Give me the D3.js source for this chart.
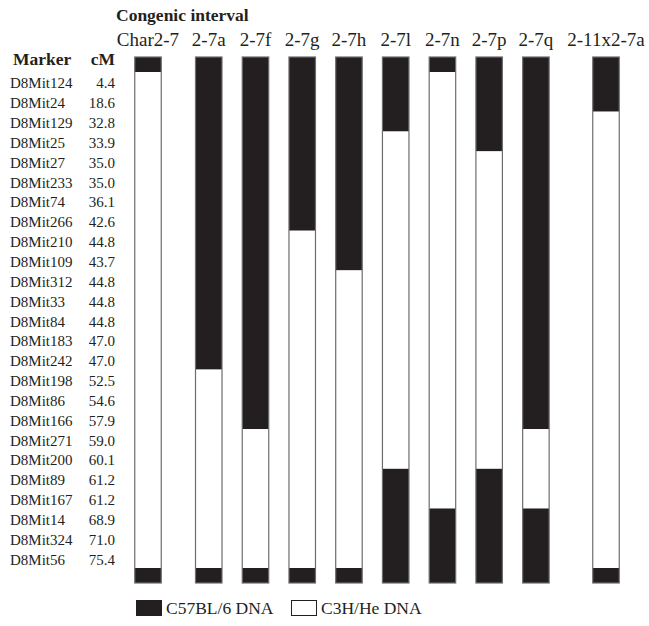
<!DOCTYPE html>
<html>
<head>
<meta charset="utf-8">
<style>
  body { margin: 0; background: #fff; }
  svg { display: block; font-family: "Liberation Serif", "Times New Roman", serif; }
</style>
<script src="https://d3js.org/d3.v7.min.js"></script>
</head>
<body>
<script>
  // markers along the chromosome, top to bottom
  const markers = ["D8Mit124", "D8Mit24", "D8Mit129", "D8Mit25", "D8Mit27", "D8Mit233", "D8Mit74",
    "D8Mit266", "D8Mit210", "D8Mit109", "D8Mit312", "D8Mit33", "D8Mit84", "D8Mit183", "D8Mit242",
    "D8Mit198", "D8Mit86", "D8Mit166", "D8Mit271", "D8Mit200", "D8Mit89", "D8Mit167", "D8Mit14",
    "D8Mit324", "D8Mit56"];
  const cM = ["4.4", "18.6", "32.8", "33.9", "35.0", "35.0", "36.1", "42.6", "44.8", "43.7", "44.8",
    "44.8", "44.8", "47.0", "47.0", "52.5", "54.6", "57.9", "59.0", "60.1", "61.2", "61.2", "68.9",
    "71.0", "75.4"];

  const strains = ["Char2-7", "2-7a", "2-7f", "2-7g", "2-7h", "2-7l", "2-7n", "2-7p", "2-7q", "2-11x2-7a"];

  // genotype per marker: B = C57BL/6, C = C3H/He (groups of 5 markers)
  const genotypes = [
    "CCCCC CCCCC CCCCC CCCCC CCCCC",
    "BBBBB BBBBB BBBBB CCCCC CCCCC",
    "BBBBB BBBBB BBBBB BBBCC CCCCC",
    "BBBBB BBBCC CCCCC CCCCC CCCCC",
    "BBBBB BBBBB CCCCC CCCCC CCCCC",
    "BBBCC CCCCC CCCCC CCCCC BBBBB",
    "CCCCC CCCCC CCCCC CCCCC CCBBB",
    "BBBBC CCCCC CCCCC CCCCC BBBBB",
    "BBBBB BBBBB BBBBB BBBCC CCBBB",
    "BBCCC CCCCC CCCCC CCCCC CCCCC"
  ].map(s => s.replace(/ /g, ""));

  const legendKeys = ["B", "C"];
  const legendLabels = ["C57BL/6 DNA", "C3H/He DNA"];

  const width = 649, height = 626;
  const ink = "#231f20";
  const fillFor = g => g === "B" ? ink : "#fff";

  const svg = d3.select("body").append("svg")
    .attr("width", width)
    .attr("height", height);

  svg.append("rect").attr("width", width).attr("height", height).attr("fill", "#fff");

  const y = d3.scaleBand().domain(markers).range([72, 568]);
  const capH = 15;

  // column slots: extra gap after the parent strain and before the last one
  const slots = d3.cumsum([0, 1.3, 1, 1, 1, 1, 1, 1, 1, 1.5]);
  const x = d3.scaleLinear().domain([0, slots[slots.length - 1]]).range([148, 606]);
  const barW = 26.5;

  // headers
  svg.append("text")
    .attr("x", 116).attr("y", 21)
    .attr("font-size", 17.5).attr("font-weight", "bold").attr("fill", ink)
    .text("Congenic interval");

  svg.append("text")
    .attr("x", 13).attr("y", 65)
    .attr("font-size", 17.5).attr("font-weight", "bold").attr("fill", ink)
    .text("Marker");

  svg.append("text")
    .attr("x", 115).attr("y", 65).attr("text-anchor", "end")
    .attr("font-size", 17.5).attr("font-weight", "bold").attr("fill", ink)
    .text("cM");

  svg.selectAll("text.strain")
    .data(strains)
    .join("text")
    .attr("class", "strain")
    .attr("x", (d, i) => x(slots[i]))
    .attr("y", 46)
    .attr("text-anchor", "middle")
    .attr("font-size", 19).attr("fill", ink)
    .text(d => d);

  // marker rows
  const rowY = m => y(m) + y.bandwidth() / 2 + 6.5;

  svg.selectAll("text.marker")
    .data(markers)
    .join("text")
    .attr("class", "marker")
    .attr("x", 10)
    .attr("y", rowY)
    .attr("font-size", 15).attr("fill", ink)
    .text(d => d);

  svg.selectAll("text.cm")
    .data(markers)
    .join("text")
    .attr("class", "cm")
    .attr("x", 115)
    .attr("y", rowY)
    .attr("text-anchor", "end")
    .attr("font-size", 15).attr("fill", ink)
    .text((d, i) => cM[i]);

  // bars
  strains.forEach((s, i) => {
    const g = svg.append("g");
    const cx = x(slots[i]);
    const geno = genotypes[i];

    // runs of same genotype
    const runs = [];
    for (let k = 0; k < geno.length; k++) {
      const last = runs[runs.length - 1];
      if (last && last.g === geno[k]) last.end = k;
      else runs.push({ g: geno[k], start: k, end: k });
    }

    const top = y.range()[0], bottom = y.range()[1];

    g.append("rect")
      .attr("x", cx - barW / 2).attr("y", top - capH)
      .attr("width", barW).attr("height", capH)
      .attr("fill", ink);

    g.selectAll("rect.seg")
      .data(runs)
      .join("rect")
      .attr("class", "seg")
      .attr("x", cx - barW / 2)
      .attr("y", d => y(markers[d.start]))
      .attr("width", barW)
      .attr("height", d => y(markers[d.end]) + y.bandwidth() - y(markers[d.start]))
      .attr("fill", d => fillFor(d.g));

    g.append("rect")
      .attr("x", cx - barW / 2).attr("y", bottom)
      .attr("width", barW).attr("height", capH)
      .attr("fill", ink);

    g.append("rect")
      .attr("x", cx - barW / 2).attr("y", top - capH)
      .attr("width", barW).attr("height", bottom - top + 2 * capH)
      .attr("fill", "none")
      .attr("stroke", "#6d6d6d")
      .attr("stroke-width", 1.2);
  });

  // legend
  const legendX = [136, 291];
  const lg = svg.selectAll("g.legend")
    .data(legendKeys)
    .join("g")
    .attr("class", "legend")
    .attr("transform", (d, i) => `translate(${legendX[i]},600)`);

  lg.append("rect")
    .attr("x", 0.5).attr("y", 0.5)
    .attr("width", 25).attr("height", 15)
    .attr("fill", d => fillFor(d))
    .attr("stroke", ink).attr("stroke-width", 1);

  lg.append("text")
    .attr("x", 30).attr("y", 13.5)
    .attr("font-size", 17.5).attr("fill", ink)
    .text((d, i) => legendLabels[i]);
</script>
</body>
</html>
